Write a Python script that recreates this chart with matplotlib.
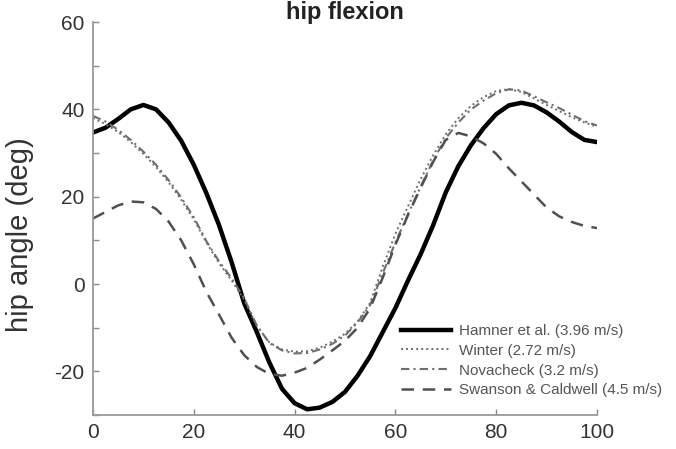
import numpy as np
import matplotlib
matplotlib.use("Agg")
import matplotlib.pyplot as plt
from matplotlib.ticker import MultipleLocator

# gait cycle (%) shared by all series
gait_pct = [0, 2.5, 5, 7.5, 10, 12.5, 15, 17.5, 20, 22.5, 25, 27.5, 30, 32.5, 35,
            37.5, 40, 42.5, 45, 47.5, 50, 52.5, 55, 57.5, 60, 62.5, 65, 67.5, 70,
            72.5, 75, 77.5, 80, 82.5, 85, 87.5, 90, 92.5, 95, 97.5, 100]

hamner = [34.7, 35.8, 37.8, 40.0, 41.0, 40.0, 37.0, 32.8, 27.3, 20.8, 13.5, 5.0,
          -4.4, -11.0, -18.0, -24.0, -27.3, -28.7, -28.3, -27.0, -24.7, -21.0,
          -16.5, -11.0, -5.5, 0.8, 6.8, 13.5, 21.0, 27.0, 31.8, 35.7, 38.9, 40.9,
          41.5, 40.9, 39.3, 37.2, 34.8, 33.0, 32.5]

winter = [38.0, 36.6, 34.8, 32.5, 29.8, 26.8, 23.3, 19.3, 14.8, 9.5, 4.8, 0.8,
          -3.6, -9.6, -13.4, -15.0, -15.5, -15.4, -14.6, -13.2, -11.4, -8.6,
          -4.3, 4.0, 11.5, 17.8, 24.0, 29.5, 34.3, 38.0, 40.8, 42.8, 44.2, 44.6,
          44.0, 42.5, 41.0, 39.6, 38.2, 37.0, 36.0]

novacheck = [38.5, 37.2, 35.3, 33.0, 30.3, 27.3, 23.8, 19.8, 15.3, 9.8, 5.2, 1.3,
             -3.3, -9.5, -13.5, -15.2, -15.9, -15.8, -15.0, -13.7, -11.8, -8.8,
             -4.8, 2.5, 9.5, 16.0, 22.3, 28.3, 33.4, 37.0, 40.0, 42.0, 43.7, 44.6,
             44.3, 43.0, 41.6, 40.3, 38.8, 37.3, 36.3]

swanson = [15.0, 16.5, 18.0, 18.9, 18.7, 17.2, 14.3, 10.0, 4.5, -1.8, -7.0, -12.3,
           -16.3, -19.0, -20.6, -21.0, -20.3, -19.2, -17.3, -15.2, -13.0, -10.0,
           -5.5, 1.5, 9.0, 15.8, 22.0, 28.0, 33.0, 34.6, 33.8, 32.2, 29.8, 26.5,
           23.5, 20.5, 17.5, 15.5, 14.2, 13.3, 12.8]

labels = ["Hamner et al. (3.96 m/s)", "Winter (2.72 m/s)",
          "Novacheck (3.2 m/s)", "Swanson & Caldwell (4.5 m/s)"]

plt.rcParams['font.family'] = ['Liberation Sans', 'DejaVu Sans']
plt.rcParams['axes.unicode_minus'] = False

fig = plt.figure(figsize=(6.76, 4.49), dpi=100)
ax = fig.add_axes([93 / 676, 34 / 449, 504 / 676, 393 / 449])

ax.plot(gait_pct, hamner, color='black', lw=3.2, label=labels[0])
ax.plot(gait_pct, winter, color='#6e6e6e', lw=1.4, linestyle=(0, (1, 1.6)), label=labels[1])
ax.plot(gait_pct, novacheck, color='#6e6e6e', lw=1.5, linestyle=(0, (4, 2, 1, 2)), label=labels[2])
ax.plot(gait_pct, swanson, color='#505050', lw=1.8, linestyle=(0, (5, 3.5)), label=labels[3])

ax.set_xlim(0, 100)
ax.set_ylim(-30, 60)
ax.xaxis.set_major_locator(MultipleLocator(20))
ax.yaxis.set_major_locator(MultipleLocator(20))
ax.yaxis.set_minor_locator(MultipleLocator(10))
ax.tick_params(which='both', direction='in', color='#888888', length=4, width=1,
               labelsize=15, labelcolor='#333333', pad=6)
for side in ('top', 'right'):
    ax.spines[side].set_visible(False)
for side in ('left', 'bottom'):
    ax.spines[side].set_color('#999999')
    ax.spines[side].set_linewidth(1.3)

ax.set_ylabel('hip angle (deg)', fontsize=21, color='#333333')
ax.yaxis.set_label_coords(-0.118, 0.46)

fig.text(345 / 676, 0.998, 'hip flexion', ha='center', va='top',
         fontsize=17, fontweight='bold', color='#222222')

leg = fig.legend(handles=ax.get_lines(), loc='upper left',
                 bbox_to_anchor=(401 / 676, 1 - 324 / 449), frameon=False,
                 handlelength=3.3, handletextpad=0.5, labelspacing=0.38,
                 borderaxespad=0, borderpad=0, prop={'size': 11})
for txt in leg.get_texts():
    txt.set_color('#555555')

fig.savefig('out.png', dpi=100)
